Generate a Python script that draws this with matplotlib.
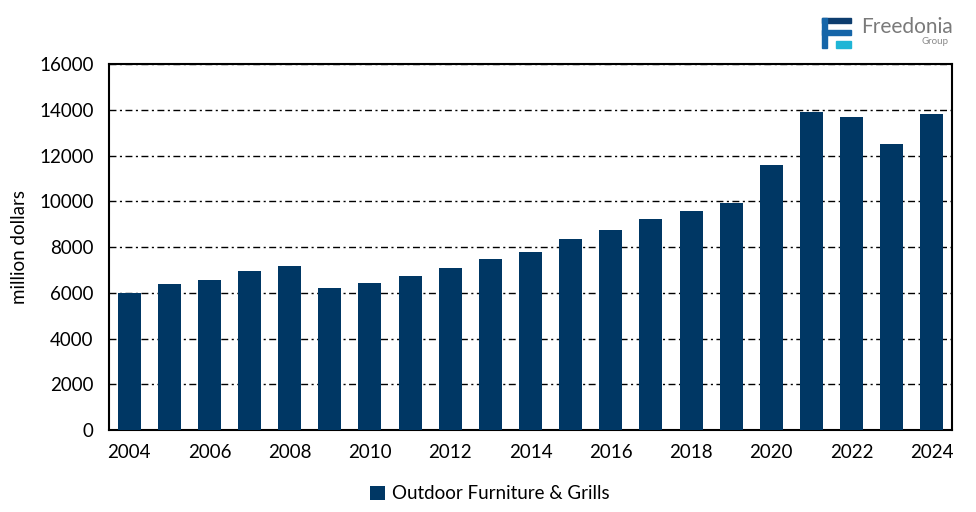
import matplotlib.pyplot as plt
from matplotlib.patches import Rectangle

plt.rcParams['font.family'] = ['Lato', 'DejaVu Sans']

# data
years = list(range(2004, 2025))
sales = [5970, 6390, 6570, 6960, 7170, 6220, 6430, 6740, 7090, 7480, 7780,
         8350, 8740, 9220, 9570, 9910, 11570, 13910, 13700, 12520, 13830]
tick_years = list(range(2004, 2025, 2))
y_ticks = list(range(0, 16001, 2000))
series_name = 'Outdoor Furniture & Grills'

bar_color = '#003764'

fig = plt.figure(figsize=(9.76, 5.12), dpi=100)
ax = fig.add_axes([0.1117, 0.160, 0.8637, 0.715])

ax.bar(years, sales, width=0.57, color=bar_color, label=series_name, zorder=3)

ax.set_xlim(2003.5, 2024.5)
ax.set_ylim(0, 16000)
ax.set_yticks(y_ticks)
ax.set_xticks(tick_years)
ax.tick_params(axis='both', length=0, labelsize=13.5)
ax.tick_params(axis='y', pad=11)
ax.tick_params(axis='x', pad=10)
ax.set_ylabel('million dollars', fontsize=13.5, labelpad=8)

ax.yaxis.grid(True, color='black', linewidth=1, linestyle=(0, (5, 2.5, 1.5, 2.5)), zorder=1)
for s in ax.spines.values():
    s.set_linewidth(1.5)
    s.set_color('black')

ax.legend(loc='upper center', bbox_to_anchor=(0.452, -0.105), frameon=False,
          fontsize=13.5, handlelength=0.75, handleheight=0.75, handletextpad=0.4)

# Freedonia logo (top right)
W, H = 976, 512
def px_rect(x0, y0, x1, y1, color):
    fig.patches.append(Rectangle((x0 / W, 1 - y1 / H), (x1 - x0) / W, (y1 - y0) / H,
                                 transform=fig.transFigure, color=color, zorder=5))

px_rect(822, 18, 851, 23, '#0d3d6e')
px_rect(822, 18, 827, 48, '#1565a8')
px_rect(822, 30, 851, 35, '#1565a8')
px_rect(836, 41, 851, 48, '#1fb5d6')
fig.text(861 / W, 1 - 27 / H, 'Freedonia', fontsize=15, color='#7a7a7a', va='center', ha='left')
fig.text(949 / W, 1 - 42 / H, 'Group', fontsize=7, color='#8a8a8a', va='center', ha='right')

plt.savefig('out.png', dpi=100)
